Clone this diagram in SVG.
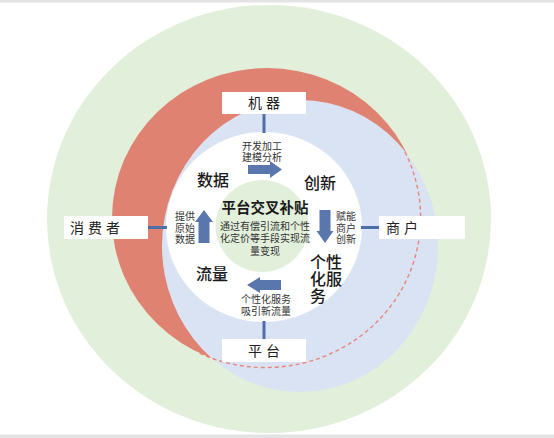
<svg xmlns="http://www.w3.org/2000/svg" width="554" height="438" viewBox="0 0 554 438">
<style>
.box{fill:#FFFFFF}
.bt{font-family:"Noto Sans CJK SC","Liberation Serif",serif;font-size:14px;fill:#222;letter-spacing:4px}
.lg{font-family:"Noto Sans CJK SC","Liberation Sans",sans-serif;font-size:16px;fill:#1a1a1a;font-weight:500}
.sm{font-family:"Noto Sans CJK SC","Liberation Sans",sans-serif;font-size:10px;fill:#333}
.ttl{font-family:"Noto Sans CJK SC","Liberation Sans",sans-serif;font-size:14.5px;fill:#1a1a1a;font-weight:bold}
.conn{stroke:#4E6EA8;stroke-width:3}
.arr{fill:#5A77AD}
</style>
<rect x="0" y="0" width="554" height="438" fill="#FFFFFF"/>
<rect x="0" y="0" width="554" height="2.5" fill="#E3E3E3"/>
<rect x="0" y="434.5" width="554" height="3.5" fill="#E3E3E3"/>
<g id="rings">
<ellipse cx="269" cy="219" rx="222" ry="214" fill="#E2EFDA"/>
<ellipse cx="267" cy="218" rx="155" ry="150" fill="#E08272"/>
<ellipse cx="300" cy="246" rx="138" ry="146" fill="#DAE3F3"/>
<path d="M 405 152 A 155 150 0 0 1 199 353" fill="none" stroke="#E8867C" stroke-width="1.4" stroke-dasharray="4 3"/>
<ellipse cx="264" cy="227" rx="98" ry="95" fill="#FFFFFF"/>
<ellipse cx="262" cy="226" rx="46.5" ry="46" fill="#E2EFDA"/>
</g>
<g id="connectors">
<line class="conn" x1="264" y1="114" x2="264" y2="133"/>
<line class="conn" x1="148" y1="227.5" x2="167" y2="227.5"/>
<line class="conn" x1="361" y1="227.5" x2="379" y2="227.5"/>
<line class="conn" x1="264" y1="321" x2="264" y2="339"/>
<path class="arr" d="M248 165 H270 V161 L282 169.5 L270 178 V174 H248 Z"/>
<path class="arr" d="M319.5 210 H330.5 V231 H333.5 L325 243 L316.5 231 H319.5 Z"/>
<path class="arr" d="M198.5 243 H209.5 V222 H213 L204 210 L195 222 H198.5 Z"/>
<path class="arr" d="M281 280 H260 V277 L247 285 L260 293 V290 H281 Z"/>
</g>
<g id="node-jiqi">
<rect class="box" x="222" y="92" width="84" height="22"/>
<text class="bt" x="266" y="108" text-anchor="middle">机器</text>
</g>
<g id="node-xiaofeizhe">
<rect class="box" x="64" y="216" width="84" height="23"/>
<text class="bt" x="70" y="232.5">消费者</text>
</g>
<g id="node-shanghu">
<rect class="box" x="379" y="216" width="86" height="23"/>
<text class="bt" x="386" y="232.5">商户</text>
</g>
<g id="node-pingtai">
<rect class="box" x="222" y="339" width="84" height="23"/>
<text class="bt" x="266" y="355.5" text-anchor="middle">平台</text>
</g>
<g id="node-center">
<text class="ttl" x="265" y="213" text-anchor="middle">平台交叉补贴</text>
<text class="sm" text-anchor="middle"><tspan x="265" y="230">通过有偿引流和个性</tspan><tspan x="265" y="242">化定价等手段实现流</tspan><tspan x="265" y="254.5">量变现</tspan></text>
</g>
<g id="node-shuju">
<text class="lg" x="213" y="186" text-anchor="middle">数据</text>
</g>
<g id="node-chuangxin">
<text class="lg" x="320" y="189" text-anchor="middle">创新</text>
</g>
<g id="node-liuliang">
<text class="lg" x="212" y="280" text-anchor="middle">流量</text>
</g>
<g id="node-gexinghua">
<text class="lg"><tspan x="310" y="268">个性</tspan><tspan x="310" y="285">化服</tspan><tspan x="310" y="302">务</tspan></text>
</g>
<g id="labels">
<text class="sm" text-anchor="middle"><tspan x="262" y="149.5">开发加工</tspan><tspan x="262" y="160.5">建模分析</tspan></text>
<text class="sm"><tspan x="175" y="220">提供</tspan><tspan x="175" y="231.5">原始</tspan><tspan x="175" y="243">数据</tspan></text>
<text class="sm"><tspan x="336" y="220">赋能</tspan><tspan x="336" y="231.5">商户</tspan><tspan x="336" y="243">创新</tspan></text>
<text class="sm" text-anchor="middle"><tspan x="266" y="302.5">个性化服务</tspan><tspan x="266" y="314.5">吸引新流量</tspan></text>
</g>
</svg>
